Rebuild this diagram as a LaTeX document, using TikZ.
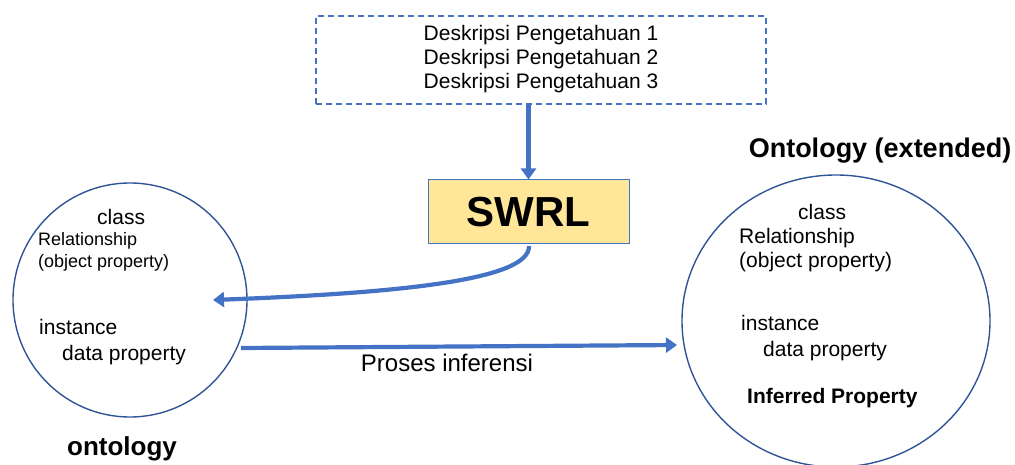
\documentclass[tikz,border=0pt]{standalone}
\usepackage{fontspec}
\setmainfont{Liberation Sans}
\usetikzlibrary{arrows.meta,shapes.geometric}
\definecolor{arrowblue}{HTML}{4472C4}
\definecolor{ringblue}{HTML}{2F5597}
\definecolor{swrlfill}{HTML}{FFE699}
\tikzset{
  txt/.style={inner sep=0pt, font=\fontsize{21}{24}\selectfont},
  txtsmall/.style={inner sep=0pt, font=\fontsize{18}{21}\selectfont},
  boldtxt/.style={inner sep=0pt, font=\fontsize{21}{24}\selectfont\bfseries},
  ring/.style={draw=ringblue, line width=1.4pt},
  flow/.style={draw=arrowblue, line width=4.2pt, -{Triangle[width=15pt,length=11pt]}},
}
\begin{document}
\begin{tikzpicture}[x=1pt,y=-1pt]
\useasboundingbox (0,0) rectangle (1015,465);
% description box
\node (desc) [draw=arrowblue, dashed, dash pattern=on 6pt off 4pt, line width=1.2pt,
  minimum width=450pt, minimum height=88pt, inner sep=0pt] at (541,60) {};
\node (d1) [txt] at (541,35) {Deskripsi Pengetahuan 1};
\node (d2) [txt] at (541,59) {Deskripsi Pengetahuan 2};
\node (d3) [txt] at (541,83) {Deskripsi Pengetahuan 3};
% SWRL
\node (swrl) [draw=arrowblue, line width=1pt, fill=swrlfill, minimum width=201pt,
  minimum height=64pt, inner sep=0pt, font=\fontsize{42}{48}\selectfont\bfseries] at (528.5,212) {SWRL};
% circles
\node (left) [ring, circle, minimum size=234pt, inner sep=0pt] at (130,300) {};
\node (right) [ring, ellipse, minimum width=308pt, minimum height=292pt, inner sep=0pt] at (836,321) {};
% left texts
\node (lclass) [txt, anchor=mid west] at (97,222) {class};
\node (lrel) [txtsmall, anchor=mid west] at (38,243) {Relationship};
\node (lobj) [txtsmall, anchor=mid west] at (38,265) {(object property)};
\node (linst) [txt, anchor=mid west] at (39,332) {instance};
\node (ldata) [txt, anchor=mid west] at (62,358) {data property};
\node (lont) [inner sep=0pt, font=\fontsize{26}{30}\selectfont\bfseries] at (122,449) {ontology};
% right texts
\node (rtitle) [inner sep=0pt, font=\fontsize{27}{31}\selectfont\bfseries] at (880,151) {Ontology (extended)};
\node (rclass) [txt, anchor=mid west] at (798,217) {class};
\node (rrel) [txt, anchor=mid west] at (739,241) {Relationship};
\node (robj) [txt, anchor=mid west] at (739,265) {(object property)};
\node (rinst) [txt, anchor=mid west] at (741,328) {instance};
\node (rdata) [txt, anchor=mid west] at (763,354) {data property};
\node (rinf) [boldtxt, anchor=mid west] at (747,401) {Inferred Property};
% arrows
\coordinate (swrlout) at (529,246);
\coordinate (lefttip) at (213,300);
\coordinate (hstart) at (241,348);
\coordinate (htip) at (677,345);
\draw[flow] (desc.south -| swrl.north) -- (swrl.north);
\draw[flow] (swrlout) .. controls (530,280) and (400,293) .. (lefttip);
\draw[flow] (hstart) -- (htip);
\node (proc) [inner sep=0pt, font=\fontsize{24}{28}\selectfont] at (447,363) {Proses inferensi};
\end{tikzpicture}
\end{document}
